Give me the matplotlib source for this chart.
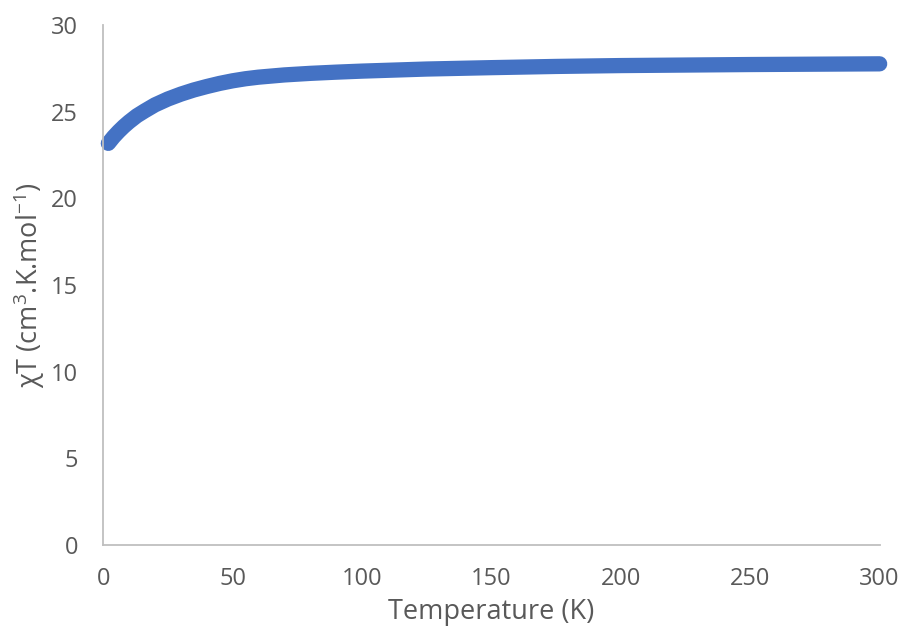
import matplotlib.pyplot as plt

# chi*T vs temperature
temperature = [2, 4, 6, 8, 10, 13, 16, 20, 25, 30, 35, 40, 45, 50, 55, 60, 70, 80, 90,
               100, 125, 150, 175, 200, 250, 300]
chi_t = [23.18, 23.55, 23.87, 24.16, 24.42, 24.77, 25.05, 25.4, 25.74, 26.02, 26.26,
         26.46, 26.64, 26.79, 26.91, 27.0, 27.13, 27.22, 27.29, 27.35, 27.47, 27.55,
         27.62, 27.67, 27.73, 27.77]

x_ticks = [0, 50, 100, 150, 200, 250, 300]
y_ticks = [0, 5, 10, 15, 20, 25, 30]

plt.rcParams['font.family'] = ['Open Sans', 'DejaVu Sans']
plt.rcParams['mathtext.fontset'] = 'custom'
plt.rcParams['mathtext.rm'] = 'Open Sans'
plt.rcParams['mathtext.default'] = 'rm'
grey = '#595959'

fig = plt.figure(figsize=(9.05, 6.3), dpi=100)
ax = fig.add_axes([0.114, 0.135, 0.858, 0.825])

ax.plot(temperature, chi_t, color='#4472C4', linewidth=11,
        solid_capstyle='round', solid_joinstyle='round', clip_on=False)

ax.set_xlim(0, 300)
ax.set_ylim(0, 30)
ax.set_xticks(x_ticks)
ax.set_yticks(y_ticks)
ax.tick_params(length=0, labelsize=17, labelcolor=grey)
ax.tick_params(axis='x', pad=16)
ax.tick_params(axis='y', pad=18)

for side in ['top', 'right']:
    ax.spines[side].set_visible(False)
for side in ['left', 'bottom']:
    ax.spines[side].set_color('#BFBFBF')
    ax.spines[side].set_linewidth(1.3)

ax.set_xlabel('Temperature (K)', fontsize=19.5, color=grey, labelpad=5)
ax.set_ylabel(r'χT (cm$^{3}$.K.mol$^{-1}$)', fontsize=19.5, color=grey, labelpad=3)

fig.savefig('out.png', dpi=100)
